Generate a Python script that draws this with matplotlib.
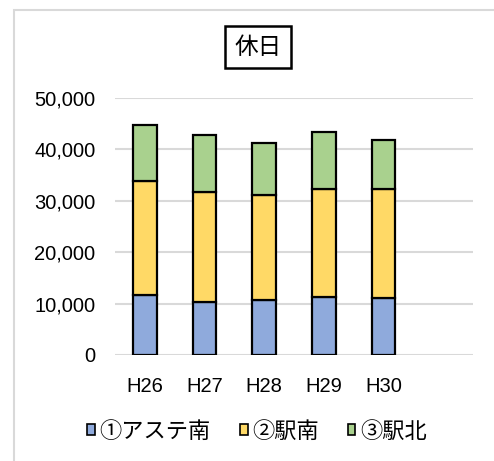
import numpy as np
import matplotlib.pyplot as plt
from matplotlib.patches import Rectangle
from matplotlib.ticker import FuncFormatter

plt.rcParams['font.family'] = ['Liberation Sans', 'Noto Sans CJK JP', 'DejaVu Sans']

#### datos
anios = ['H26', 'H27', 'H28', 'H29', 'H30', '']
series = ['①アステ南', '②駅南', '③駅北']
aste_sur = [11600, 10400, 10700, 11200, 11100, 0]
eki_sur = [22300, 21400, 20400, 21100, 21100, 0]
eki_norte = [10800, 11000, 10200, 11100, 9600, 0]
colores = ['#8faadc', '#ffd966', '#a9d18e']

fig = plt.figure(figsize=(4.94, 4.61), dpi=100)
ax = fig.add_axes([115/494, 1 - 355/461, (473 - 115)/494, (355 - 98)/461])

x = np.arange(len(anios))
base = np.zeros(len(anios))
for nombre, valores, color in zip(series, [aste_sur, eki_sur, eki_norte], colores):
    v = np.array(valores, dtype=float)
    ax.bar(x[:5], v[:5], bottom=base[:5], width=0.4, color=color,
           edgecolor='black', linewidth=1.6, label=nombre, zorder=3)
    base += v

ax.set_xlim(-0.5, 5.5)
ax.set_ylim(0, 50000)
ax.set_yticks(np.arange(0, 50001, 10000))
ax.yaxis.set_major_formatter(FuncFormatter(lambda v, p: f'{int(v):,}'))
ax.set_xticks(x[:5])
ax.set_xticklabels(anios[:5])
ax.grid(axis='y', color='#d9d9d9', linewidth=1.5, zorder=0)
ax.tick_params(length=0, labelsize=14.5, colors='black')
ax.tick_params(axis='y', pad=14)
ax.tick_params(axis='x', pad=16)
for s in ax.spines.values():
    s.set_visible(False)

# titulo en recuadro
fig.text(258/494, 1 - 47/461, '休日', ha='center', va='center', fontsize=17,
         family=['Noto Sans CJK JP'],
         bbox=dict(boxstyle='square,pad=0.4', facecolor='white',
                   edgecolor='black', linewidth=1.8))

leg = fig.legend(loc='center', bbox_to_anchor=(257/494, 1 - 431/461), ncol=3,
                 frameon=False, handlelength=0.35,
                 handleheight=0.35, handletextpad=0.2, columnspacing=1.3,
                 prop={'family': ['Noto Sans CJK JP'], 'size': 16})
for h in leg.legend_handles:
    h.set_linewidth(1.2)

# marco exterior
fig.patches.append(Rectangle((14/494, -0.1), 1.0, 1 - 10/461 + 0.1,
                             transform=fig.transFigure, fill=False,
                             edgecolor='#d9d9d9', linewidth=1.5))

fig.savefig('out.png', dpi=100)
